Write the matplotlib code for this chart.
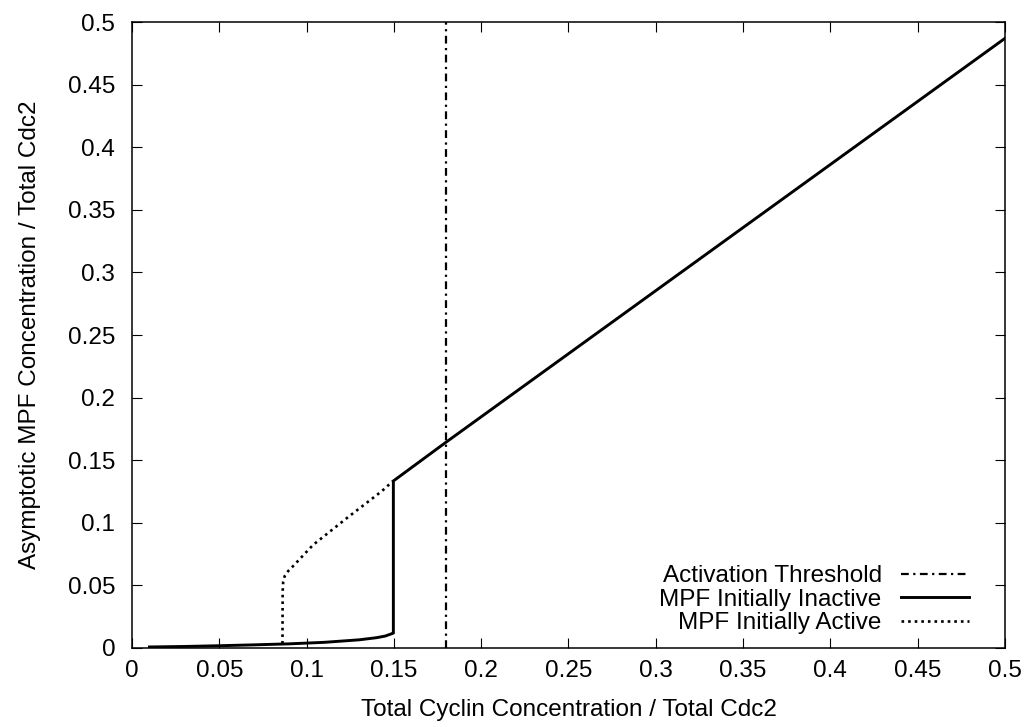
import matplotlib
matplotlib.use("Agg")
import matplotlib.pyplot as plt

plt.rcParams['font.family'] = ['Liberation Sans', 'DejaVu Sans']

# Data
threshold_x = 0.18

inactive_x = [0.010, 0.030, 0.050, 0.070, 0.090, 0.110, 0.130, 0.140, 0.145, 0.149,
              0.1497, 0.1497, 0.180, 0.500]
inactive_y = [0.0008, 0.0012, 0.0018, 0.0025, 0.0033, 0.0045, 0.0065, 0.0082, 0.0095, 0.0115,
              0.0120, 0.1334, 0.1645, 0.487]

active_x = [0.0862, 0.0863, 0.0866, 0.0875, 0.0895, 0.0920, 0.1037, 0.1231, 0.1432, 0.1495]
active_y = [0.0035, 0.0450, 0.0530, 0.0575, 0.0615, 0.0650, 0.0823, 0.1038, 0.1254, 0.1334]

xticks = [0, 0.05, 0.1, 0.15, 0.2, 0.25, 0.3, 0.35, 0.4, 0.45, 0.5]
xticklabels = ["0", "0.05", "0.1", "0.15", "0.2", "0.25", "0.3", "0.35", "0.4", "0.45", "0.5"]
yticks = [0, 0.05, 0.1, 0.15, 0.2, 0.25, 0.3, 0.35, 0.4, 0.45, 0.5]
yticklabels = ["0", "0.05", "0.1", "0.15", "0.2", "0.25", "0.3", "0.35", "0.4", "0.45", "0.5"]

FS = 17.5

fig = plt.figure(figsize=(10.27, 7.27), dpi=100)
ax = fig.add_axes([0.1285, 0.1087, 0.8501, 0.8610])

ax.axvline(threshold_x, color='black', lw=1.6, linestyle=(0, (3.5, 2, 1, 2)),
           label='Activation Threshold')
ax.plot(inactive_x, inactive_y, color='black', lw=2.1, label='MPF Initially Inactive',
        solid_joinstyle='miter')
ax.plot(active_x, active_y, color='black', lw=1.9, linestyle=(0, (1, 1.5)),
        label='MPF Initially Active')

ax.set_xlim(0, 0.5)
ax.set_ylim(0, 0.5)
ax.set_xticks(xticks)
ax.set_xticklabels(xticklabels)
ax.set_yticks(yticks)
ax.set_yticklabels(yticklabels)
ax.tick_params(direction='in', length=7, width=0.8, top=True, right=True,
               labelsize=FS)
ax.tick_params(axis='x', pad=9)
ax.tick_params(axis='y', pad=12)
for s in ax.spines.values():
    s.set_linewidth(1.1)

ax.set_xlabel('Total Cyclin Concentration / Total Cdc2', fontsize=FS, labelpad=12)
ax.set_ylabel('Asymptotic MPF Concentration / Total Cdc2', fontsize=FS, labelpad=19)

leg = ax.legend(loc='lower right', bbox_to_anchor=(0.959, 0.022),
                frameon=False, markerfirst=False, fontsize=FS,
                handlelength=2.8, handletextpad=0.8, labelspacing=0.06,
                borderaxespad=0.0, borderpad=0.0)

fig.savefig('out.png', dpi=100)
